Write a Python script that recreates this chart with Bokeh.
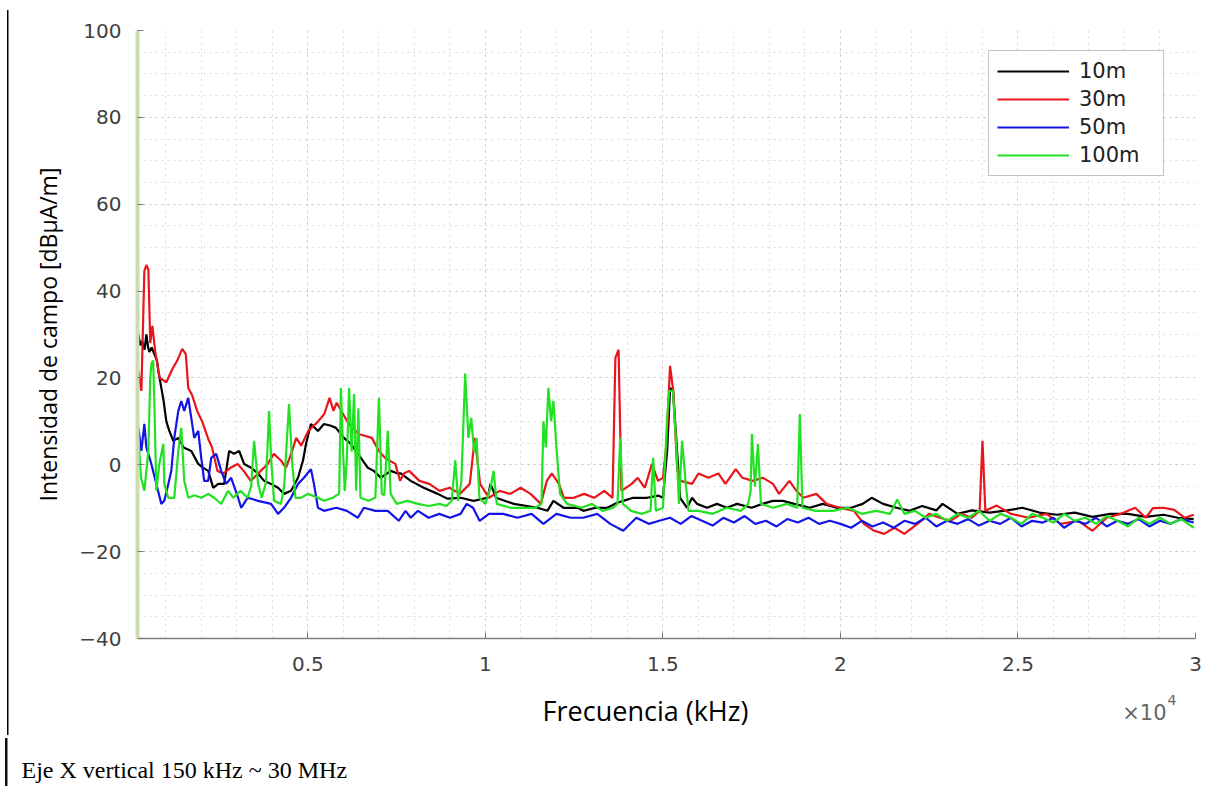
from bokeh.plotting import figure
from bokeh.models import (Legend, LegendItem, Label, FixedTicker, Range1d)
from bokeh.embed import file_html
from bokeh.resources import INLINE

# ---------------- data (frequency in kHz, field strength in dBuA/m) ----------------
series_names = ["10m", "30m", "50m", "100m"]
series_colors = ["#000000", "#e8161c", "#1414e6", "#22e022"]

f_10m = [225, 280, 330, 400, 450, 500, 534, 600, 674, 750, 787, 871, 930, 1012, 1096, 1208, 1349, 1500,
         1714, 1911, 2051, 2192, 2332, 2473, 2641, 2782, 2922, 3063, 3203, 3400, 3597, 3765, 3962, 4159,
         4327, 4524, 4721, 4861, 4946, 5086, 5283, 5451, 5648, 5789, 6013, 6210, 6491, 6688, 6856, 7053,
         7334, 7531, 7615, 7896, 8261, 8655, 8936, 9301, 9667, 10060, 10144, 10300, 10800, 11465, 11746,
         11914, 12200, 12600, 12757, 13100, 13432, 13700, 13881, 14162, 14556, 14865, 15000, 15118, 15202,
         15286, 15400, 15483, 15680, 15820, 15961, 16242, 16523, 16800, 17085, 17500, 17800, 18096, 18377,
         18700, 19136, 19500, 19895, 20300, 20625, 20878, 21200, 21581, 21946, 22300, 22700, 22873, 23300,
         23700, 24200, 24700, 25121, 25600, 26100, 26600, 27100, 27600, 28100, 28600, 29100, 29500, 29950]
v_10m = [30, 27.5, 28.5, 26.5, 30, 27, 26, 27, 25.5, 24, 21.6, 17.7, 15, 10, 7.8, 5.5, 6.2, 4,
         3.2, 0.2, -0.7, -1.4, -5.3, -4.4, -4.4, 3.2, 2.5, 3.2, 0.2, -0.7, -2, -3.7, -4.4, -5.3,
         -6.7, -6, -3, 1, 4.8, 9.4, 7.8, 9.4, 9, 8.5, 6.2, 4.8, 1.6, -0.7, -1.4, -3,
         -1.4, -2, -2, -3.7, -5.3, -6.7, -7.8, -7.6, -8.3, -7.6, -4.4, -7.6, -9, -9.9, -10.6,
         -8.3, -9.9, -9.9, -10.6, -9.9, -9.9, -8.8, -8.3, -7.6, -7.6, -7.1, -7.6, 3.2, 17.7,
         17, 3, -7.6, -9.9, -7.6, -9, -9.9, -9, -9.9, -9, -9.9, -9, -8.3, -8.3,
         -9, -9.9, -9, -9.9, -9.9, -9, -7.6, -9, -9.9, -10.6, -9.5, -10.5, -9, -11.3,
         -10.5, -11, -10.5, -9.9, -11, -11.5, -11, -12, -11.3, -11.3, -12, -11.5, -12.2, -12.5]

f_30m = [225, 309, 393, 450, 506, 560, 620, 700, 825, 1012, 1180, 1320, 1460, 1560, 1630, 1740, 1880,
         2020, 2190, 2300, 2450, 2620, 2820, 3020, 3190, 3390, 3670, 3870, 4040, 4240, 4380, 4550, 4670,
         4810, 5010, 5290, 5460, 5610, 5720, 5810, 6150, 6430, 6800, 7000, 7170, 7460, 7600, 7700, 7850,
         8140, 8420, 8710, 8990, 9280, 9560, 9700, 9850, 10100, 10400, 10700, 10990, 11270, 11560, 11730,
         11870, 12070, 12210, 12490, 12780, 13060, 13350, 13580, 13660, 13750, 13830, 14120, 14290, 14490,
         14690, 14860, 15000, 15100, 15200, 15290, 15400, 15500, 15820, 16000, 16280, 16560, 16760, 17050,
         17240, 17530, 17820, 18100, 18270, 18560, 18760, 18950, 19320, 19610, 19980, 20380, 20660, 20950,
         21230, 21520, 21800, 22170, 22500, 22800, 23100, 23400, 23700, 23920, 24000, 24080, 24400, 24800,
         25300, 25800, 26200, 26700, 27100, 27500, 27900, 28300, 28600, 28800, 29100, 29400, 29700, 29950]
v_30m = [21.6, 17, 44.6, 46, 45, 28, 32, 26, 20, 19, 22, 24, 26.7, 25.5, 17.7, 16, 12.4,
         10, 6, 4, -1.4, -2, -0.7, 0.2, -1.4, -3.7, -1.4, 0.2, 2.5, 1, -0.7, 3, 6.2,
         4.4, 7.8, 10, 11.7, 15.4, 12.4, 14.3, 9.4, 7.1, 6.2, 3.2, 1.6, 0.2, -3.7, -2, -1.4,
         -3.7, -4.4, -6, -5.3, -6.7, -4.4, 6.2, -4.4, -7.6, -6, -6.7, -5.3, -6.7, -9, -3.7,
         -2, -4.4, -7.6, -7.6, -6.7, -7.6, -6, -7.6, 24.6, 26.5, -6, -4.4, -3, -5.3,
         0.2, -3.7, -3, 4.8, 22.8, 17, -1, -3.7, -4.4, -2, -3, -2, -4.4, -1,
         -3, -3.7, -3, -4.4, -6.7, -3.7, -6, -7.6, -6.7, -9, -9.9, -10.6, -13.6, -15.2,
         -15.9, -14.5, -15.9, -13.6, -11.3, -12.2, -12.9, -11.3, -12.2, -10.6, 5.5, -10.6, -9.4, -11.3,
         -12.2, -11.3, -13.6, -12.9, -15.2, -12.2, -11.3, -9.9, -12.2, -10, -9.9, -10.4, -12.2, -11.5]

f_50m = [225, 309, 393, 450, 590, 731, 871, 955, 1068, 1152, 1236, 1349, 1433, 1517, 1630, 1714, 1798,
         1911, 1995, 2079, 2192, 2276, 2417, 2557, 2698, 2838, 3035, 3119, 3300, 3597, 3962, 4159, 4327,
         4524, 4721, 4889, 5086, 5170, 5283, 5451, 5800, 6100, 6407, 6575, 6900, 7250, 7559, 7750, 7896,
         8100, 8400, 8700, 9000, 9300, 9470, 9650, 9835, 10100, 10500, 10900, 11300, 11633, 12000, 12400,
         12750, 13150, 13516, 13881, 14250, 14600, 14900, 15200, 15500, 15800, 16100, 16400, 16700, 17000,
         17300, 17600, 17900, 18200, 18500, 18800, 19100, 19400, 19700, 20000, 20300, 20600, 20900, 21200,
         21500, 21800, 22100, 22400, 22700, 23000, 23300, 23600, 23900, 24200, 24500, 24800, 25100, 25400,
         25700, 26000, 26300, 26600, 26900, 27200, 27500, 27800, 28100, 28400, 28700, 29000, 29300, 29600,
         29950]
v_50m = [8.5, 3.2, 9.4, 4, 0.2, -4.4, -9, -8.3, -4.4, -1.4, 6.2, 12.4, 14.7, 12.4, 15.4, 10.8, 6.2,
         7.8, 1.6, -3.7, -3.7, 1.6, 2.5, -1.4, -4.4, -3, -7.6, -9.9, -7.6, -8.3, -9, -11.3, -9.9,
         -7.6, -4.4, -3, -1, -4.4, -9.9, -10.6, -9.9, -10.6, -12.2, -9.9, -10.6, -10.6, -12.9, -10.6, -12.2,
         -10.6, -12.2, -11.3, -12.2, -11.3, -9, -9.9, -12.9, -11.3, -11.3, -12.2, -11.3, -13.6, -11.3, -12.2,
         -12.2, -11.3, -13.6, -15.2, -12.2, -13.6, -12.9, -12.2, -13.6, -11.8, -12.9, -14, -12.2, -13.3,
         -11.8, -13.6, -12.9, -14.2, -12.5, -13.3, -12.2, -13.6, -12.9, -13.6, -14.5, -12.9, -14.2, -13.3,
         -14.5, -12.9, -13.6, -12.2, -14.2, -12.9, -13.6, -12.5, -14, -12.9, -13.6, -12.2, -14.2, -12.9,
         -13.3, -12.2, -14.5, -12.9, -13.6, -12.2, -14.2, -12.9, -13.6, -12.5, -14.2, -12.9, -13.6, -12.5,
         -13.3]

f_100m = [225, 300, 393, 506, 560, 590, 640, 674, 731, 815, 927, 955, 1068, 1236, 1349, 1433, 1517, 1630,
          1800, 1995, 2192, 2360, 2557, 2754, 2900, 3100, 3300, 3400, 3484, 3597, 3700, 3820, 3906, 3962,
          4046, 4240, 4330, 4468, 4560, 4650, 4805, 5002, 5283, 5451, 5700, 5880, 5929, 5990, 6040, 6100,
          6160, 6230, 6300, 6360, 6420, 6480, 6700, 6900, 7000, 7080, 7150, 7250, 7330, 7500, 7800, 8100,
          8400, 8700, 8900, 9050, 9150, 9230, 9320, 9430, 9520, 9600, 9680, 9750, 9830, 10000, 10150, 10230,
          10320, 10700, 11100, 11400, 11580, 11633, 11700, 11774, 11850, 11914, 12000, 12100, 12300, 12700,
          13000, 13300, 13600, 13720, 13797, 13870, 14100, 14400, 14650, 14724, 14800, 15000, 15118, 15174,
          15280, 15380, 15450, 15539, 15650, 15720, 16000, 16400, 16800, 17200, 17400, 17470, 17506, 17590,
          17675, 17760, 18100, 18500, 18780, 18855, 18930, 19300, 19800, 20200, 20600, 21000, 21400, 21600,
          21800, 22100, 22400, 22700, 23000, 23300, 23600, 23900, 24200, 24500, 24800, 25100, 25400, 25700,
          26000, 26300, 26600, 26900, 27200, 27500, 27800, 28100, 28400, 28700, 29000, 29300, 29600, 29950]
v_100m = [6.2, -3, -6, 3.2, 20, 23.2, 24, 14.7, -6, 0.2, 4.8, -4.4, -7.6, -7.6, 3.2, 8.5, -3.7, -7.6,
          -7, -7.6, -6.7, -7.6, -9, -6, -7.6, -6, -7.6, -5, 5.5, -4.4, -7.6, -4, 12.4, 1.6,
          -8.3, -9, -5, 14, 0, -7.6, -7.6, -6.7, -7.6, -8.3, -7.6, -6.7, 17.7, 3, -6, 2,
          17.7, 3, 16.3, -6, 13, -7.6, -8.3, -7.6, 15.4, -6.7, -7, 7.8, -6.7, -9, -8.3, -9,
          -9.5, -9, -9.5, -8.3, 1, -8.3, -4, 21, 6.2, 10.8, 3, 6.2, -7.6, -9, -5, -1.4,
          -9, -9.9, -9.9, -9.9, -9, 10, 4, 17.7, 10, 14.7, 4, -6.7, -9, -9.9,
          -9, -10.6, -9.9, -9, 6.2, -9, -10.6, -11.3, -10.6, 1.6, -10.6, -9.9, 10.8, 17,
          17, 4, -9, 5.5, -5, -10.6, -10.6, -11.3, -9.9, -10.6, -9, -6, 7.1, -5,
          4.8, -9, -9.9, -9, -9.9, 11.7, -9.9, -10.6, -10.6, -9.9, -11.3, -10.6, -11.3, -8,
          -11.3, -10.6, -12.2, -11.3, -12.9, -11.3, -12.2, -10.6, -12.9, -11.3, -12.2, -13.6, -11.3, -12.2,
          -13.3, -11.3, -12.9, -12.2, -13.6, -11.8, -12.9, -14.2, -12.2, -13.6, -12.2, -13.6, -12.5, -14.5]

x_ticks = [5000, 10000, 15000, 20000, 25000, 30000]
x_tick_labels = ["0.5", "1", "1.5", "2", "2.5", "3"]
x_minor = list(range(1000, 30000, 1000))
y_ticks = [-40, -20, 0, 20, 40, 60, 80, 100]
y_minor = list(range(-40, 101, 5))

x_label = "Frecuencia (kHz)"
y_label = "Intensidad de campo [dBµA/m]"
exp_base = "×10"
exp_power = "4"
caption = "Eje X vertical 150 kHz ~ 30 MHz"

# ---------------- geometry (canvas pixels) ----------------
W, H = 1213, 786
FL, FR, FT, FB = 137, 1195, 30, 638          # frame left/right/top/bottom
X0, X1, Y0, Y1 = 200, 30000, -40, 100


def px_x(px):
    """canvas x pixel -> data x"""
    return X0 + (px - FL) * (X1 - X0) / (FR - FL)


def px_y(py):
    """canvas y pixel -> data y"""
    return Y1 - (py - FT) * (Y1 - Y0) / (FB - FT)


p = figure(width=W, height=H, output_backend="svg", toolbar_location=None,
           x_range=Range1d(X0, X1), y_range=Range1d(Y0, Y1),
           min_border_left=FL, min_border_right=W - FR, min_border_top=FT, min_border_bottom=H - FB)
p.outline_line_color = None
p.background_fill_color = "white"
# transparent border so the page rules painted on the host element show through
p.border_fill_alpha = 0
p.styles = {
    "background": ("linear-gradient(#000, #000) 7px 10px / 1.5px 725px no-repeat, "
                   "linear-gradient(#1a0a00, #1a0a00) 5px 738px / 2.5px 48px no-repeat, #ffffff"),
}

p.xaxis.ticker = FixedTicker(ticks=x_ticks, minor_ticks=x_minor)
p.xaxis.major_label_overrides = {t: l for t, l in zip(x_ticks, x_tick_labels)}
p.yaxis.ticker = FixedTicker(ticks=y_ticks, minor_ticks=y_minor)

for ax in (p.xaxis[0], p.yaxis[0]):
    ax.major_tick_in = 6
    ax.major_tick_out = 0
    ax.minor_tick_in = 0
    ax.minor_tick_out = 0
    ax.major_tick_line_color = "#777777"
    ax.major_label_text_font = "DejaVu Sans"
    ax.major_label_text_font_size = "20px"
    ax.major_label_text_color = "#404040"

p.xaxis.axis_line_color = "#808080"
p.xaxis.axis_line_width = 1.5
p.xaxis.major_label_standoff = 18
p.yaxis.axis_line_color = "#c9dcb2"
p.yaxis.axis_line_width = 4
p.yaxis.major_label_standoff = 16

p.yaxis.axis_label = y_label
p.yaxis.axis_label_text_font = "Open Sans"
p.yaxis.axis_label_text_font_size = "23px"
p.yaxis.axis_label_text_font_style = "normal"
p.yaxis.axis_label_text_color = "#000000"
p.yaxis.axis_label_standoff = 12

p.grid.grid_line_color = "#c8c8c8"
p.grid.grid_line_dash = "2 4"
p.grid.minor_grid_line_color = "#dcdcdc"
p.grid.minor_grid_line_dash = "2 4"

series = [(f_10m, v_10m), (f_30m, v_30m), (f_50m, v_50m), (f_100m, v_100m)]
items = []
for (fx, vy), name, col in zip(series, series_names, series_colors):
    r = p.line(fx, vy, line_color=col, line_width=2.2)
    items.append(LegendItem(label=name, renderers=[r]))

legend = Legend(items=items, location=(988 - FL, FB - 176), glyph_width=72, glyph_height=20,
                label_height=20, spacing=4, padding=8, label_standoff=10, label_width=76,
                label_text_font="DejaVu Sans", label_text_font_size="21px",
                label_text_color="#222222", border_line_color="#8a8a8a", border_line_width=1.5,
                background_fill_color="white", background_fill_alpha=1.0, margin=0)
p.add_layout(legend)

# texts outside the frame: placed in a side panel so they are not clipped
p.add_layout(Label(x=px_x(645), y=px_y(710), text=x_label,
                   text_font="Open Sans", text_font_size="27px", text_color="#000000",
                   text_align="center", text_baseline="middle"), "below")
p.add_layout(Label(x=px_x(1166), y=px_y(712), text=exp_base,
                   text_font="DejaVu Sans", text_font_size="21px", text_color="#666666",
                   text_align="right", text_baseline="middle"), "below")
p.add_layout(Label(x=px_x(1167), y=px_y(699), text=exp_power,
                   text_font="DejaVu Sans", text_font_size="14px", text_color="#666666",
                   text_align="left", text_baseline="middle"), "below")
p.add_layout(Label(x=px_x(21), y=px_y(769), text=caption,
                   text_font="Liberation Serif", text_font_size="24px", text_color="#000000",
                   text_align="left", text_baseline="middle"), "below")

open("out.html", "w").write(file_html(p, INLINE))
